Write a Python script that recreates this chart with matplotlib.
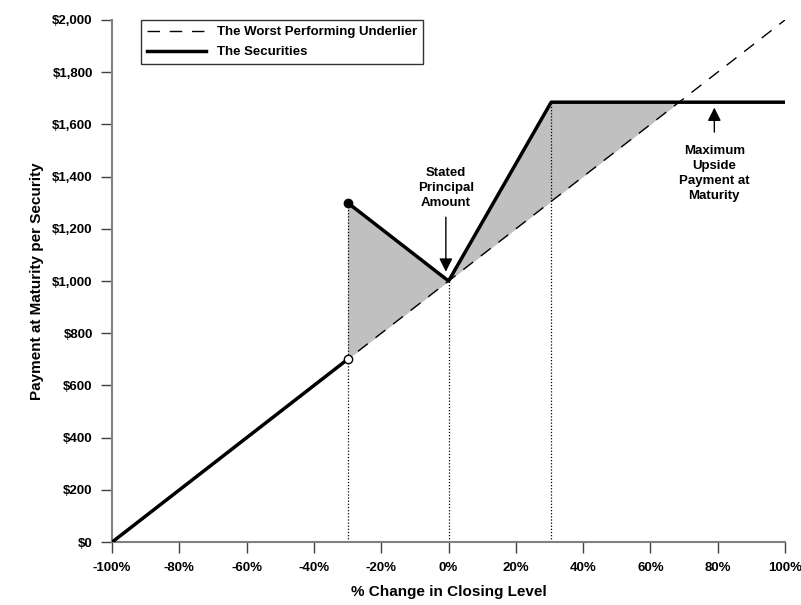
import numpy as np
import matplotlib.pyplot as plt
from matplotlib.ticker import FuncFormatter

plt.rcParams['font.family'] = ['Liberation Sans', 'DejaVu Sans']
plt.rcParams['font.weight'] = 'bold'

# underlier: % change -> payment
under_x = [-100, 100]
under_y = [0, 2000]

# securities payoff, split at the -30% barrier
sec_lo_x = [-100, -30]
sec_lo_y = [0, 700]
sec_hi_x = [-30, 0, 30.5, 100]
sec_hi_y = [1300, 1000, 1685, 1685]

cap = 1685
cap_cross = 68.5  # where the underlier reaches the cap

# shaded region between securities and underlier
shade_x = [-30, 0, 30.5, cap_cross]
shade_top = [1300, 1000, 1685, 1685]
shade_bot = [700, 1000, 1305, 1685]

drops = [(-30, 1300), (0, 1000), (30.5, 1685)]

xticks = [-100, -80, -60, -40, -20, 0, 20, 40, 60, 80, 100]
yticks = [0, 200, 400, 600, 800, 1000, 1200, 1400, 1600, 1800, 2000]

fig = plt.figure(figsize=(8.01, 6.05), dpi=100)
ax = fig.add_axes([0.14, 0.104, 0.84, 0.863])

ax.fill_between(shade_x, shade_bot, shade_top, color='#c0c0c0', lw=0, zorder=1)

for xv, yv in drops:
    ax.plot([xv, xv], [0, yv], color='black', lw=0.9, ls=(0, (1, 1.5)), zorder=2)

ax.plot(under_x, under_y, color='black', lw=1.0, ls=(0, (9, 7)), zorder=3,
        label='The Worst Performing Underlier')
ax.plot(sec_lo_x, sec_lo_y, color='black', lw=2.5, zorder=4, label='The Securities')
ax.plot(sec_hi_x, sec_hi_y, color='black', lw=2.5, zorder=4)

ax.plot(-30, 1300, 'o', ms=6, color='black', zorder=5)
ax.plot(-30, 700, 'o', ms=6, mfc='white', mec='black', mew=1, zorder=5)

ax.annotate('', xy=(-0.8, 1025), xytext=(-0.8, 1255),
            arrowprops=dict(arrowstyle='-|>', color='black', lw=1, mutation_scale=20))
ax.text(-0.8, 1356, 'Stated\nPrincipal\nAmount', ha='center', va='center',
        fontsize=9.5, fontweight='bold', linespacing=1.3)

ax.annotate('', xy=(79, 1675), xytext=(79, 1560),
            arrowprops=dict(arrowstyle='-|>', color='black', lw=1, mutation_scale=20))
ax.text(79, 1412, 'Maximum\nUpside\nPayment at\nMaturity', ha='center', va='center',
        fontsize=9.5, fontweight='bold', linespacing=1.3)

ax.set_xlim(-100, 100)
ax.set_ylim(0, 2000)
ax.set_xticks(xticks)
ax.set_yticks(yticks)
ax.xaxis.set_major_formatter(FuncFormatter(lambda v, p: f'{v:.0f}%'))
ax.yaxis.set_major_formatter(FuncFormatter(lambda v, p: f'${v:,.0f}'))
ax.tick_params(direction='out', length=8, width=1, labelsize=9.5, color='#404040', pad=6)

for s in ['top', 'right']:
    ax.spines[s].set_visible(False)
for s in ['left', 'bottom']:
    ax.spines[s].set_color('#808080')
    ax.spines[s].set_linewidth(1.5)

ax.set_xlabel('% Change in Closing Level', fontsize=11, fontweight='bold', labelpad=8)
ax.set_ylabel('Payment at Maturity per Security', fontsize=11, fontweight='bold', labelpad=6)

leg = ax.legend(loc='upper left', bbox_to_anchor=(0.043, 1.0), borderaxespad=0,
                fontsize=9.5, frameon=True, fancybox=False, edgecolor='black',
                handlelength=4.5, borderpad=0.45, labelspacing=0.6)
leg.get_frame().set_linewidth(1)
leg.set_zorder(10)

fig.savefig('out.png', dpi=100)
